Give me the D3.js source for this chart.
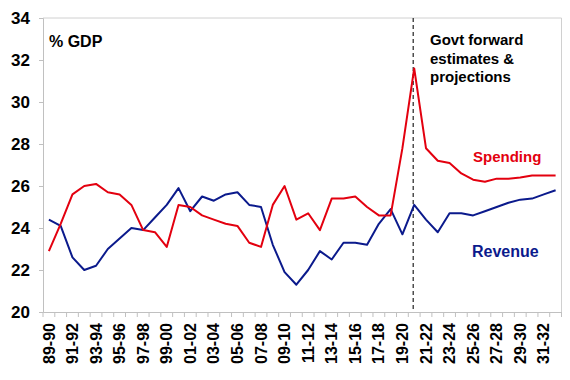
<!DOCTYPE html>
<html>
<head>
<meta charset="utf-8">
<script src="https://cdn.jsdelivr.net/npm/d3@7"></script>
<style>
  html, body { margin: 0; padding: 0; background: #fff; }
  svg { display: block; font-family: "Liberation Sans", Arial, sans-serif; }
</style>
</head>
<body>
<svg id="chart" width="570" height="380"></svg>
<script>
const years = ["89-90","90-91","91-92","92-93","93-94","94-95","95-96","96-97","97-98","98-99",
  "99-00","00-01","01-02","02-03","03-04","04-05","05-06","06-07","07-08","08-09",
  "09-10","10-11","11-12","12-13","13-14","14-15","15-16","16-17","17-18","18-19",
  "19-20","20-21","21-22","22-23","23-24","24-25","25-26","26-27","27-28","28-29",
  "29-30","30-31","31-32","32-33"];

const spending = [22.9,24.2,25.6,26.0,26.1,25.7,25.6,25.1,23.9,23.8,
  23.1,25.1,25.0,24.6,24.4,24.2,24.1,23.3,23.1,25.1,
  26.0,24.4,24.7,23.9,25.4,25.4,25.5,25.0,24.6,24.6,
  27.8,31.6,27.8,27.2,27.1,26.6,26.3,26.2,26.35,26.35,
  26.4,26.5,26.5,26.5];

const revenue = [24.4,24.1,22.6,22.0,22.2,23.0,23.5,24.0,23.9,24.5,
  25.1,25.9,24.8,25.5,25.3,25.6,25.7,25.1,25.0,23.2,
  21.9,21.3,22.0,22.9,22.5,23.3,23.3,23.2,24.2,24.9,
  23.7,25.1,24.4,23.8,24.7,24.7,24.6,24.8,25.0,25.2,
  25.35,25.4,25.6,25.8];

const yTicks = [20,22,24,26,28,30,32,34];
const dividerYear = "20-21";

(function () {
const svg = d3.select("#chart");
const mLeft = 43, mRight = 561.5, mTop = 18, mBottom = 312;

const x = d3.scaleBand().domain(years).range([mLeft, mRight]).padding(0);
const y = d3.scaleLinear().domain([20, 34]).range([mBottom, mTop]);
const cx = d => x(d) + x.bandwidth() / 2;

// frame (top & right)
svg.append("path")
  .attr("d", `M${mLeft},${mTop}H${mRight}V${mBottom}`)
  .attr("fill", "none").attr("stroke", "#d0d0d0").attr("stroke-width", 1);

// y axis
const yAxis = svg.append("g").attr("transform", `translate(${mLeft},0)`)
  .call(d3.axisLeft(y).tickValues(yTicks).tickSize(4).tickPadding(9).tickFormat(d3.format("d")));
yAxis.select(".domain").attr("stroke", "#c0c0c0");
yAxis.selectAll(".tick line").attr("stroke", "#c0c0c0");
yAxis.selectAll(".tick text").attr("font-size", 17).attr("font-weight", "bold").attr("fill", "#000")
  .attr("font-family", "Liberation Sans, Arial, sans-serif");

// x axis
const xAxis = svg.append("g").attr("transform", `translate(0,${mBottom})`)
  .call(d3.axisBottom(x).tickSize(0).tickPadding(0)
    .tickFormat((d, i) => i % 2 === 0 ? d : ""));
xAxis.select(".domain").attr("stroke", "#c0c0c0");
xAxis.selectAll(".tick text")
  .attr("font-size", 16).attr("font-weight", "bold").attr("fill", "#000")
  .attr("font-family", "Liberation Sans, Arial, sans-serif")
  .attr("text-anchor", "end")
  .attr("transform", "translate(0,11) rotate(-90)")
  .attr("dx", 0).attr("dy", "0.35em").attr("y", 0).attr("x", 0);
// tick marks at band boundaries
const bounds = years.map(d => x(d)).concat([mRight]);
svg.append("g").selectAll("line").data(bounds).join("line")
  .attr("x1", d => d).attr("x2", d => d)
  .attr("y1", mBottom).attr("y2", mBottom + 5)
  .attr("stroke", "#c0c0c0").attr("stroke-width", 1);

// divider
svg.append("line")
  .attr("x1", cx(dividerYear) - 1).attr("x2", cx(dividerYear) - 1)
  .attr("y1", mTop).attr("y2", mBottom)
  .attr("stroke", "#222").attr("stroke-width", 1.2).attr("stroke-dasharray", "4,3");

const line = d3.line().x((d, i) => cx(years[i])).y(d => y(d));

svg.append("path").datum(revenue).attr("d", line)
  .attr("fill", "none").attr("stroke", "#0b1a8c").attr("stroke-width", 2).attr("stroke-linejoin", "round");
svg.append("path").datum(spending).attr("d", line)
  .attr("fill", "none").attr("stroke", "#e3000f").attr("stroke-width", 2).attr("stroke-linejoin", "round");

// labels
svg.append("text").attr("x", 49).attr("y", 47).text("% GDP")
  .attr("font-size", 16).attr("font-weight", "bold").attr("fill", "#000");

const note = svg.append("text").attr("x", 430).attr("y", 45)
  .attr("font-size", 15).attr("font-weight", "bold").attr("fill", "#000");
["Govt forward", "estimates &", "projections"].forEach((t, i) => {
  note.append("tspan").attr("x", 430).attr("dy", i === 0 ? 0 : 18.5).text(t);
});

svg.append("text").attr("x", 473).attr("y", 162).text("Spending")
  .attr("font-size", 15).attr("font-weight", "bold").attr("fill", "#e3000f");
svg.append("text").attr("x", 472).attr("y", 257).text("Revenue")
  .attr("font-size", 16).attr("font-weight", "bold").attr("fill", "#0b1a8c");
})();
</script>
</body>
</html>
